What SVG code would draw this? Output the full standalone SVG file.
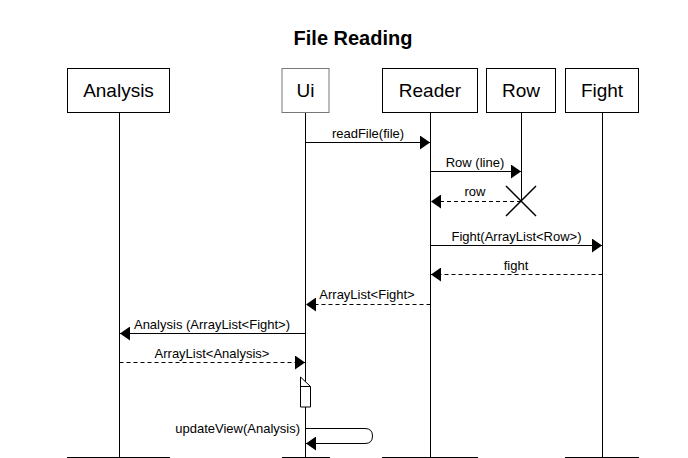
<svg xmlns="http://www.w3.org/2000/svg" width="688" height="458" viewBox="0 0 688 458">
<defs>
<marker id="ah" viewBox="0 0 10 14" refX="10" refY="7" markerWidth="10" markerHeight="14" markerUnits="userSpaceOnUse" orient="auto">
<path d="M0,0 L10,7 L0,14 Z" fill="#000"/>
</marker>
</defs>
<style>
text{font-family:"Liberation Sans",Arial,sans-serif;fill:#000}
.box{fill:#fff;stroke:#000;stroke-width:1}
.name{font-size:19px;text-anchor:middle}
.life{stroke:#000;stroke-width:1;fill:none}
.msg{stroke:#000;stroke-width:1;fill:none;marker-end:url(#ah)}
.ret{stroke:#000;stroke-width:1;fill:none;stroke-dasharray:4 3;marker-end:url(#ah)}
.lbl{font-size:13px;text-anchor:middle}
</style>
<rect width="688" height="458" fill="#fff"/>
<text x="353" y="45" style="font-size:20px;font-weight:bold;text-anchor:middle">File Reading</text>

<g id="analysis">
<line class="life" x1="119.5" y1="113" x2="119.5" y2="457"/>
<rect class="box" x="67.5" y="68.5" width="102" height="44"/>
<text class="name" x="118.5" y="97">Analysis</text>
<line class="life" x1="67" y1="457.5" x2="170" y2="457.5"/>
</g>
<g id="ui">
<line class="life" x1="305.5" y1="113" x2="305.5" y2="457"/>
<rect class="box" x="282" y="68.5" width="47" height="44" style="stroke:#777"/>
<text class="name" x="305.5" y="97">Ui</text>
<line class="life" x1="282" y1="457.5" x2="330" y2="457.5"/>
<path d="M300.5,377 L310.5,386.5 L310.5,407 L300.5,407 Z M300.5,386.5 L310.5,386.5" fill="#fff" stroke="#000"/>
</g>
<g id="reader">
<line class="life" x1="430.5" y1="113" x2="430.5" y2="457"/>
<rect class="box" x="382.5" y="68.5" width="95" height="44"/>
<text class="name" x="430" y="97">Reader</text>
<line class="life" x1="382" y1="457.5" x2="478" y2="457.5"/>
</g>
<g id="row">
<line class="life" x1="521.5" y1="113" x2="521.5" y2="201"/>
<rect class="box" x="486.5" y="68.5" width="69" height="44"/>
<text class="name" x="521" y="97">Row</text>
<path d="M506,186 L536,216 M536,186 L506,216" stroke="#000" stroke-width="1.5" fill="none"/>
</g>
<g id="fight">
<line class="life" x1="602.5" y1="113" x2="602.5" y2="457"/>
<rect class="box" x="565.5" y="68.5" width="73" height="44"/>
<text class="name" x="602" y="97">Fight</text>
<line class="life" x1="565" y1="457.5" x2="639" y2="457.5"/>
</g>

<g id="connectors">
<line class="msg" x1="305.5" y1="142.5" x2="430" y2="142.5"/>
<text class="lbl" x="368" y="138">readFile(file)</text>
<line class="msg" x1="430.5" y1="171.5" x2="521" y2="171.5"/>
<text class="lbl" x="475" y="167">Row (line)</text>
<line class="ret" x1="521" y1="201.5" x2="431" y2="201.5"/>
<text class="lbl" x="475" y="196">row</text>
<line class="msg" x1="430.5" y1="245.5" x2="602" y2="245.5"/>
<text class="lbl" x="516.5" y="241">Fight(ArrayList&lt;Row&gt;)</text>
<line class="ret" x1="602.5" y1="274.5" x2="431" y2="274.5"/>
<text class="lbl" x="516" y="270">fight</text>
<line class="ret" x1="430.5" y1="304.5" x2="306" y2="304.5"/>
<text class="lbl" x="367" y="299">ArrayList&lt;Fight&gt;</text>
<line class="msg" x1="305.5" y1="333.5" x2="120" y2="333.5"/>
<text class="lbl" x="212" y="329">Analysis (ArrayList&lt;Fight&gt;)</text>
<line class="ret" x1="119.5" y1="362.5" x2="305" y2="362.5"/>
<text class="lbl" x="212" y="358">ArrayList&lt;Analysis&gt;</text>
<path class="msg" d="M305.5,428.5 L365,428.5 Q372.5,428.5 372.5,436 Q372.5,443.5 365,443.5 L306,443.5"/>
<text x="300" y="433" style="font-size:13px;text-anchor:end">updateView(Analysis)</text>
</g>
</svg>
